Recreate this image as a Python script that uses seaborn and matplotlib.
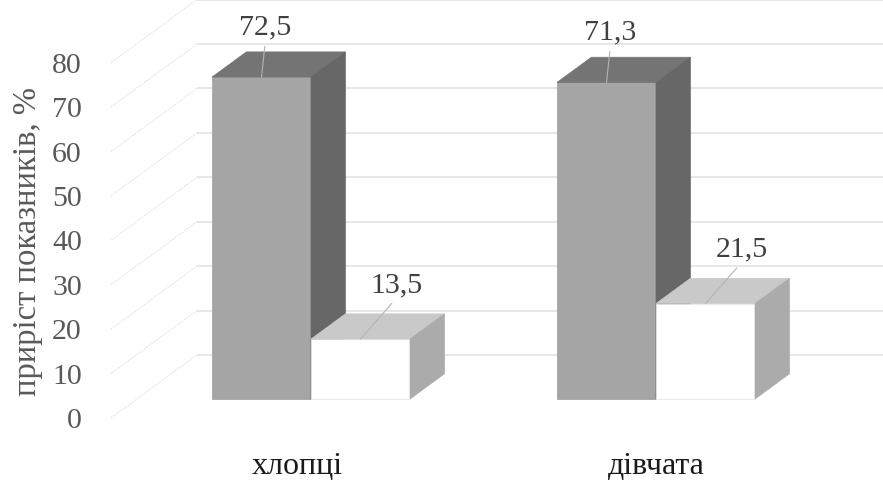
import numpy as np
import pandas as pd
import matplotlib
matplotlib.use("Agg")
import matplotlib.pyplot as plt
from matplotlib.patches import Polygon
from matplotlib.transforms import ScaledTranslation
import seaborn as sns

# ---- data -------------------------------------------------------------
groups = ["хлопці", "дівчата"]
series = ["ЕГ", "КГ"]
eg_values = [72.5, 71.3]
kg_values = [13.5, 21.5]
y_ticks = [0, 10, 20, 30, 40, 50, 60, 70, 80]
y_label = "приріст показників, %"

# ---- styling ------------------------------------------------------------
front_colors = ["#a5a5a5", "#ffffff"]
top_colors = ["#747474", "#c9c9c9"]
side_colors = ["#676767", "#ababab"]
grid_color = "#e0e0e0"
side_grid_color = "#e4e4e4"
tick_color = "#595959"
value_color = "#404040"
leader_color = "#b4b4b4"

W, H, DPI = 883, 480, 100

# pixel geometry of the oblique projection
X0, GROUP_PX = 311.0, 345.0      # pixel x of first category, px per category
Y0, UNIT_PX = 399.0, 4.44        # pixel y of value 0 on bar front plane, px per unit
DEPTH_PX = (86.0, 63.0)          # full floor depth (right, up)
BAR_DEPTH = (0.30, 0.70)         # bars occupy this slice of the floor depth
AX_LEFT_PX, AX_BOTTOM_PX = 111.0, 435.0
category_label_shift_px = [-14, 0]

ddx_full = DEPTH_PX[0] / GROUP_PX
ddy_full = DEPTH_PX[1] / UNIT_PX
front_off = -BAR_DEPTH[0]                 # floor front relative to bar fronts
back_off = 1.0 - BAR_DEPTH[0]             # back wall relative to bar fronts
bar_d = BAR_DEPTH[1] - BAR_DEPTH[0]

sns.set_theme(style="white")
plt.rcParams["font.family"] = ["Liberation Serif", "DejaVu Serif"]

fig = plt.figure(figsize=(W / DPI, H / DPI), dpi=DPI)
ax = fig.add_axes([AX_LEFT_PX / W, 1 - AX_BOTTOM_PX / H,
                   (W - AX_LEFT_PX) / W, AX_BOTTOM_PX / H])

df = pd.DataFrame({
    "група": groups * len(series),
    "серія": [s for s in series for _ in groups],
    "значення": eg_values + kg_values,
})

sns.barplot(data=df, x="група", y="значення", hue="серія",
            order=groups, hue_order=series, palette=front_colors,
            saturation=1, width=0.574, gap=0, dodge=True, legend=False,
            linewidth=0.6, ax=ax)

xlim = ((AX_LEFT_PX - X0) / GROUP_PX, (W - X0) / GROUP_PX)
ylim = ((Y0 - AX_BOTTOM_PX) / UNIT_PX, Y0 / UNIT_PX)

# ---- walls: back-wall gridlines and side-wall diagonals ----------------
x_side_front = xlim[0]
x_side_back = xlim[0] + ddx_full
for v in y_ticks:
    yb = v + back_off * ddy_full
    ax.plot([x_side_back, xlim[1]], [yb, yb], color=grid_color, lw=1.1,
            zorder=0.5, clip_on=False, solid_capstyle="butt")
    ax.plot([x_side_front, x_side_back], [v + front_off * ddy_full, yb],
            color=side_grid_color, lw=0.7, ls=(0, (2, 1)), zorder=0.5,
            clip_on=False)

# ---- 3-D faces for every bar --------------------------------------------
bars = list(ax.patches)
n_g = len(groups)
dx, dy = bar_d * ddx_full, bar_d * ddy_full
for i, p in enumerate(bars):
    s_idx = i // n_g
    x, w, h = p.get_x(), p.get_width(), p.get_height()
    p.set_edgecolor(front_colors[s_idx] if s_idx == 0 else "#e6e6e6")
    p.set_zorder(2 + s_idx)
    top = Polygon([(x, h), (x + w, h), (x + w + dx, h + dy), (x + dx, h + dy)],
                  closed=True, facecolor=top_colors[s_idx],
                  edgecolor=top_colors[s_idx], lw=0.5, zorder=2.5 + s_idx)
    side = Polygon([(x + w, 0), (x + w, h), (x + w + dx, h + dy), (x + w + dx, dy)],
                   closed=True, facecolor=side_colors[s_idx],
                   edgecolor=side_colors[s_idx], lw=0.5, zorder=2.5 + s_idx)
    ax.add_patch(top)
    ax.add_patch(side)

# ---- value labels with leader lines ------------------------------------
label_offsets_px = [(4, 50), (36, 54)]
pt = 72.0 / DPI
for i, p in enumerate(bars):
    s_idx = i // n_g
    xc = p.get_x() + p.get_width() / 2
    h = p.get_height()
    ox, oy = label_offsets_px[s_idx]
    ax.annotate(f"{h:.1f}".replace(".", ","), xy=(xc, h),
                xytext=(ox * pt, oy * pt), textcoords="offset points",
                ha="center", va="center", fontsize=21.5, color=value_color,
                zorder=6,
                arrowprops=dict(arrowstyle="-", color=leader_color, lw=0.8,
                                relpos=(0.5, 0.0), shrinkA=2, shrinkB=0))

# ---- axes ---------------------------------------------------------------
ax.set_xlim(*xlim)
ax.set_ylim(*ylim)
ax.set_yticks([v + front_off * ddy_full for v in y_ticks],
              labels=[str(v) for v in y_ticks])
ax.tick_params(axis="y", length=0, pad=21, labelsize=21.5, labelcolor=tick_color)
ax.tick_params(axis="x", length=0, pad=12, labelsize=23, labelcolor="#1a1a1a")
for lbl, shift in zip(ax.get_xticklabels(), category_label_shift_px):
    lbl.set_transform(lbl.get_transform()
                      + ScaledTranslation(shift / DPI, 0, fig.dpi_scale_trans))
ax.set_xlabel("")
ax.set_ylabel(y_label, fontsize=23.5, color=tick_color)
ax.yaxis.set_label_coords((43 - AX_LEFT_PX) / (W - AX_LEFT_PX), 1 - 242 / AX_BOTTOM_PX)
for sp in ax.spines.values():
    sp.set_visible(False)
ax.grid(False)

fig.savefig("out.png", dpi=DPI)
